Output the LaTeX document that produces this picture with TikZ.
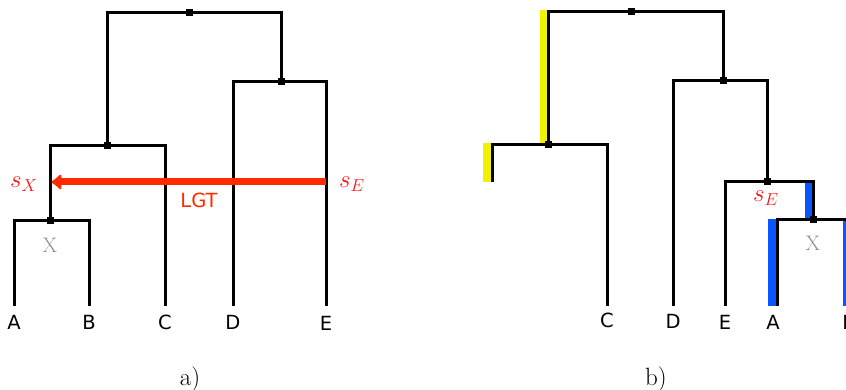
\documentclass[tikz,border=0pt]{standalone}
\usepackage{fontspec}
\newfontfamily\lblfont{DejaVu Sans}
\usetikzlibrary{arrows.meta}
\definecolor{lgtred}{HTML}{FF2A00}
\definecolor{lblred}{HTML}{FF1010}
\definecolor{hlblue}{HTML}{0A55FF}
\definecolor{hlyellow}{HTML}{F2F200}
\definecolor{xgray}{HTML}{8C8C8C}
\tikzset{
  branch/.style={draw=black, line width=3pt, line join=miter},
  knot/.style={fill=black, minimum size=7pt, inner sep=0pt, outer sep=0pt},
  leaflbl/.style={font=\lblfont\fontsize{19.5}{22}\selectfont, inner sep=0pt},
  slbl/.style={text=lblred, font=\fontsize{25}{30}\selectfont, inner sep=0pt},
  xlbl/.style={text=xgray, font=\fontsize{21}{25}\selectfont, inner sep=0pt},
  caplbl/.style={font=\fontsize{25}{30}\selectfont, inner sep=0pt},
}
\begin{document}
\begin{tikzpicture}[x=1pt,y=-1pt]
\useasboundingbox (0,0) rectangle (846,390);
\clip (0,0) rectangle (846,390);
% ---------- panel a ----------
\coordinate (ar) at (189,13);
\coordinate (au) at (281,82);
\coordinate (av) at (107,146);
\coordinate (ax) at (50,221);
\coordinate (aA) at (14,306);
\coordinate (aB) at (89,306);
\coordinate (aC) at (165,306);
\coordinate (aD) at (233,306);
\coordinate (aE) at (326,306);
\draw[branch] (av) |- (ar) -| (au);
\draw[branch] (aD) |- (au) -| (aE);
\draw[branch] (ax) |- (av) -| (aC);
\draw[branch] (aA) |- (ax) -| (aB);
\node[knot] (kar) at (ar) {};
\node[knot] (kau) at (au) {};
\node[knot] (kav) at (av) {};
\node[knot] (kax) at (ax) {};
\coordinate (sEa) at (326,182);
\coordinate (sXa) at (51.5,182);
\draw[draw=lgtred, line width=7pt, -{Latex[length=11pt,width=19pt,round]}] (sEa) -- (sXa);
\node[leaflbl, anchor=base] (lA) at (14,329) {A};
\node[leaflbl, anchor=base] (lB) at (89,329) {B};
\node[leaflbl, anchor=base] (lC) at (165,329) {C};
\node[leaflbl, anchor=base] (lD) at (233,329) {D};
\node[leaflbl, anchor=base] (lE) at (326,330) {E};
\node[slbl, anchor=base west] (tsX) at (10,188) {$s_X$};
\node[slbl, anchor=base west] (tsE) at (339,188) {$s_E$};
\node[leaflbl, text=lgtred, anchor=base] (tlgt) at (199,208) {LGT};
\node[xlbl] (tXa) at (50,245) {X};
\node[caplbl, anchor=base] (capa) at (190,385) {a)};
% ---------- panel b ----------
\coordinate (br) at (631,12);
\coordinate (bu) at (723,81);
\coordinate (bv) at (548,145);
\coordinate (bw) at (767,182);
\coordinate (bx) at (813,220);
\coordinate (bL) at (492,182);
\coordinate (bC) at (607,306);
\coordinate (bD) at (673,306);
\coordinate (bE) at (725,306);
\coordinate (bA) at (777,306);
\coordinate (bB) at (849,306);
% highlight bands
\fill[hlyellow] (539.5,10.5) rectangle (547,146);
\fill[hlyellow] (483,143.5) rectangle (491,182);
\fill[hlblue] (804.5,182) rectangle (812,219);
\fill[hlblue] (768,219) rectangle (776,306);
\fill[hlblue] (842.5,219) rectangle (848,306);
\draw[branch] (bv) |- (br) -| (bu);
\draw[branch] (bD) |- (bu) -| (bw);
\draw[branch] (bL) |- (bv) -| (bC);
\draw[branch] (bE) |- (bw) -| (bx);
\draw[branch] (bA) |- (bx) -| (bB);
\node[knot] (kbr) at (br) {};
\node[knot] (kbu) at (bu) {};
\node[knot] (kbv) at (bv) {};
\node[knot] (kbw) at (bw) {};
\node[knot] (kbx) at (bx) {};
\node[leaflbl, anchor=base] (mC) at (607,327) {C};
\node[leaflbl, anchor=base] (mD) at (673,328) {D};
\node[leaflbl, anchor=base] (mE) at (725,329) {E};
\node[leaflbl, anchor=base] (mA) at (773,329) {A};
\node[leaflbl, anchor=base] (mB) at (849,329) {B};
\node[slbl, anchor=base west] (usE) at (753,202) {$s_E$};
\node[xlbl] (tXb) at (813,243) {X};
\node[caplbl, anchor=base] (capb) at (656,385) {b)};
\end{tikzpicture}
\end{document}
